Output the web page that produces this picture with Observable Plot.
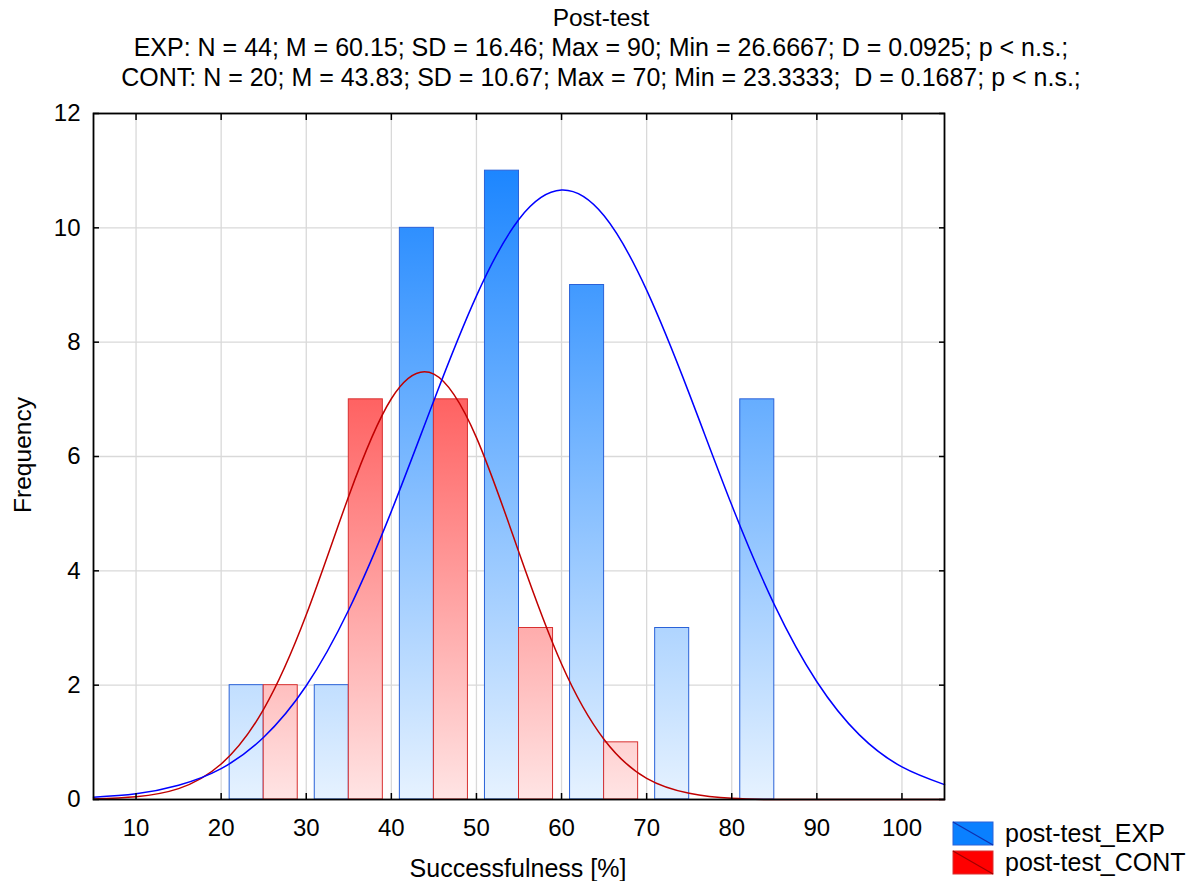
<!DOCTYPE html>
<html>
<head>
<meta charset="utf-8">
<script src="https://cdn.jsdelivr.net/npm/d3@7"></script>
<script src="https://cdn.jsdelivr.net/npm/@observablehq/plot@0.6"></script>
<style>
  html, body { margin: 0; padding: 0; background: #fff; overflow: hidden; }
  #chart svg { display: block; }
</style>
</head>
<body>
<div id="chart"></div>
<script>
// ---- Data ----
const expBinStart = [21, 31, 41, 51, 61, 71, 81];
const expBinEnd   = [25, 35, 45, 55, 65, 75, 85];
const expCounts   = [2, 2, 10, 11, 9, 3, 7];

const contBinStart = [25, 35, 45, 55, 65];
const contBinEnd   = [29, 39, 49, 59, 69];
const contCounts   = [2, 7, 7, 3, 1];

// fitted normal curves (expected frequency)
const curveX    = [5, 10, 15, 20, 25, 30, 35, 40, 45, 50, 55, 60, 65, 70, 75, 80, 85, 90, 95, 100, 105];
const expCurve  = [0.04, 0.10, 0.25, 0.54, 1.09, 1.99, 3.32, 5.04, 6.98, 8.81, 10.15, 10.66, 10.21, 8.91, 7.10, 5.15, 3.41, 2.06, 1.13, 0.57, 0.26];
const contCurve = [0.01, 0.05, 0.19, 0.62, 1.58, 3.23, 5.31, 7.01, 7.44, 6.33, 4.32, 2.37, 1.05, 0.37, 0.11, 0.02, 0.00, 0.00, 0.00, 0.00, 0.00];

const xTicks = [10, 20, 30, 40, 50, 60, 70, 80, 90, 100];
const yTicks = [0, 2, 4, 6, 8, 10, 12];

const titleText = "Post-test";
const subtitleLines = [
  "EXP: N = 44; M = 60.15; SD = 16.46; Max = 90; Min = 26.6667; D = 0.0925; p < n.s.;",
  "CONT: N = 20; M = 43.83; SD = 10.67; Max = 70; Min = 23.3333;  D = 0.1687; p < n.s.;"
];
const seriesNames = ["post-test_EXP", "post-test_CONT"];
const xLabel = "Successfulness [%]";
const yLabel = "Frequency";

// ---- Tables ----
const expBars = expCounts.map((c, i) => ({x1: expBinStart[i], x2: expBinEnd[i], y: c}));
const contBars = contCounts.map((c, i) => ({x1: contBinStart[i], x2: contBinEnd[i], y: c}));
const expLine = curveX.map((x, i) => ({x, y: expCurve[i]}));
const contLine = curveX.map((x, i) => ({x, y: contCurve[i]}));

const FONT = "'Liberation Sans', Arial, sans-serif";

const plot = Plot.plot({
  width: 1197,
  height: 881,
  marginLeft: 93,
  marginRight: 253,
  marginTop: 113,
  marginBottom: 82,
  style: {fontFamily: FONT, fontSize: "24px", color: "#000", background: "#fff", overflow: "visible"},
  x: {domain: [5, 105], ticks: xTicks},
  y: {domain: [0, 12], ticks: yTicks},
  marks: [
    Plot.gridX(xTicks, {stroke: "#d9d9d9", strokeOpacity: 1, strokeWidth: 1.3}),
    Plot.gridY(yTicks, {stroke: "#d9d9d9", strokeOpacity: 1, strokeWidth: 1.3}),
    Plot.rectY(expBars, {x1: "x1", x2: "x2", y: "y", fill: "url(#gradExp)", stroke: "#2a62d8", strokeWidth: 1, inset: 0}),
    Plot.rectY(contBars, {x1: "x1", x2: "x2", y: "y", fill: "url(#gradCont)", stroke: "#d83030", strokeWidth: 1, inset: 0}),
    Plot.line(contLine, {x: "x", y: "y", stroke: "#c00000", strokeWidth: 1.5, curve: "natural"}),
    Plot.line(expLine, {x: "x", y: "y", stroke: "#0000ff", strokeWidth: 1.5, curve: "natural"}),
    Plot.frame({stroke: "#000", strokeWidth: 1.8}),
    Plot.axisX(xTicks, {anchor: "bottom", tickSize: -6, tickPadding: 25, stroke: "#000", strokeWidth: 1.5, label: null, fontSize: 24, tickFormat: d => String(d)}),
    Plot.axisX(xTicks, {anchor: "top", tickSize: -6, text: null, stroke: "#000", strokeWidth: 1.5, label: null}),
    Plot.axisY(yTicks, {anchor: "left", tickSize: -6, tickPadding: 19, stroke: "#000", strokeWidth: 1.5, label: null, fontSize: 24, tickFormat: d => String(d)}),
    Plot.axisY(yTicks, {anchor: "right", tickSize: -6, text: null, stroke: "#000", strokeWidth: 1.5, label: null})
  ]
});

const svg = d3.select(plot);
const yS = plot.scale("y");
const y0 = yS.apply(0), y12 = yS.apply(12);

const defs = svg.insert("defs", ":first-child");
function grad(id, c0, c1) {
  const g = defs.append("linearGradient").attr("id", id)
    .attr("gradientUnits", "userSpaceOnUse")
    .attr("x1", 0).attr("x2", 0).attr("y1", y0).attr("y2", y12);
  g.append("stop").attr("offset", "0%").attr("stop-color", c0);
  g.append("stop").attr("offset", "100%").attr("stop-color", c1);
}
grad("gradExp", "rgb(230,242,255)", "rgb(10,124,255)");
grad("gradCont", "rgb(255,228,228)", "rgb(255,5,5)");

// Title and subtitles
const cx = 601;
svg.append("text").attr("x", cx).attr("y", 26).attr("text-anchor", "middle")
  .style("font-family", FONT).style("font-size", "24.5px").text(titleText);
subtitleLines.forEach((t, i) => {
  svg.append("text").attr("x", cx).attr("y", 56 + i * 30).attr("text-anchor", "middle")
    .style("font-family", FONT).style("font-size", "25px").text(t);
});

// Axis labels
svg.append("text").attr("x", 518).attr("y", 877).attr("text-anchor", "middle")
  .style("font-family", FONT).style("font-size", "25px").text(xLabel);
svg.append("text").attr("transform", "translate(31,455) rotate(-90)").attr("text-anchor", "middle")
  .style("font-family", FONT).style("font-size", "24.5px").text(yLabel);

// Legend
const legendItems = [
  {name: seriesNames[0], fill: "#0a80ff", stroke: "#2a62d8", diag: "#1030b0", y: 822},
  {name: seriesNames[1], fill: "#ff0000", stroke: "#d83030", diag: "#a00000", y: 851}
];
legendItems.forEach(d => {
  svg.append("rect").attr("x", 953).attr("y", d.y).attr("width", 40).attr("height", 23)
    .attr("fill", d.fill).attr("stroke", d.stroke).attr("stroke-width", 1);
  svg.append("line").attr("x1", 953).attr("y1", d.y).attr("x2", 993).attr("y2", d.y + 23)
    .attr("stroke", d.diag).attr("stroke-width", 1.2);
  svg.append("text").attr("x", 1005).attr("y", d.y + 20).attr("text-anchor", "start")
    .style("font-family", FONT).style("font-size", "25px").text(d.name);
});

document.getElementById("chart").appendChild(plot);
</script>
</body>
</html>
